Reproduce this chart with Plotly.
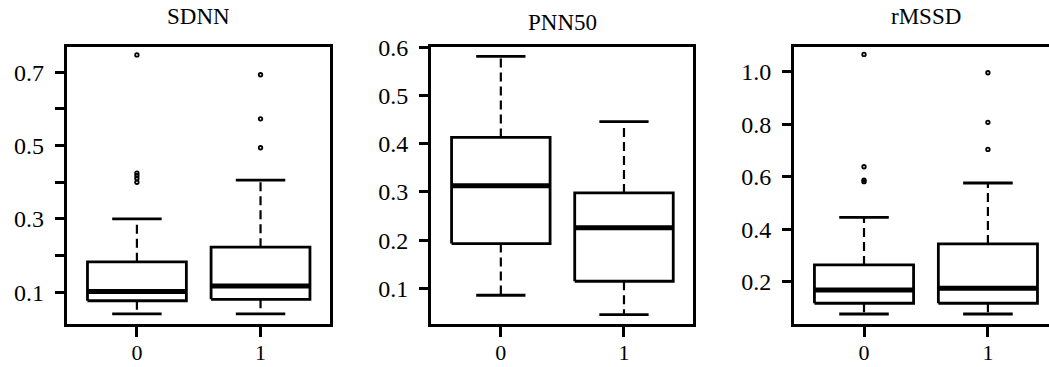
import plotly.graph_objects as go

# ---------------- data ----------------
groups = ["0", "1"]
titles = ["SDNN", "PNN50", "rMSSD"]

# SDNN box statistics per group (lower whisker, Q1, median, Q3, upper whisker)
sdnn_lower = [0.041, 0.041]
sdnn_q1 = [0.077, 0.081]
sdnn_median = [0.102, 0.117]
sdnn_q3 = [0.183, 0.223]
sdnn_upper = [0.300, 0.406]
sdnn_outliers = [[0.400, 0.410, 0.418, 0.425, 0.747], [0.494, 0.573, 0.693]]

# PNN50
pnn_lower = [0.086, 0.046]
pnn_q1 = [0.193, 0.115]
pnn_median = [0.313, 0.226]
pnn_q3 = [0.413, 0.298]
pnn_upper = [0.581, 0.446]
pnn_outliers = [[], []]

# rMSSD
rmssd_lower = [0.077, 0.077]
rmssd_q1 = [0.118, 0.118]
rmssd_median = [0.168, 0.175]
rmssd_q3 = [0.264, 0.344]
rmssd_upper = [0.445, 0.576]
rmssd_outliers = [[0.581, 0.587, 0.638, 1.066], [0.704, 0.807, 0.996]]

# y tick values / labels
sdnn_tickvals = [0.1, 0.2, 0.3, 0.4, 0.5, 0.6, 0.7]
sdnn_ticktext = ["0.1", "", "0.3", "", "0.5", "", "0.7"]
pnn_tickvals = [0.1, 0.2, 0.3, 0.4, 0.5, 0.6]
pnn_ticktext = ["0.1", "0.2", "0.3", "0.4", "0.5", "0.6"]
rmssd_tickvals = [0.2, 0.4, 0.6, 0.8, 1.0]
rmssd_ticktext = ["0.2", "0.4", "0.6", "0.8", "1.0"]

panels = [
    (sdnn_lower, sdnn_q1, sdnn_median, sdnn_q3, sdnn_upper, sdnn_outliers, sdnn_tickvals, sdnn_ticktext),
    (pnn_lower, pnn_q1, pnn_median, pnn_q3, pnn_upper, pnn_outliers, pnn_tickvals, pnn_ticktext),
    (rmssd_lower, rmssd_q1, rmssd_median, rmssd_q3, rmssd_upper, rmssd_outliers, rmssd_tickvals, rmssd_ticktext),
]

# ---------------- layout geometry ----------------
W, H = 1049, 367
FONT = "Liberation Serif"
BOXHALF = 0.4
CAPHALF = 0.2

x_domains = [[66.7 / W, 330.0 / W], [431.0 / W, 692.7 / W], [794.0 / W, 1.0]]
y_domain = [(H - 323.5) / H, (H - 46.5) / H]
x_ranges = [[-0.568, 1.562], [-0.567, 1.558], [-0.565, 1.493]]
y_ranges = [[0.015, 0.770], [0.0274, 0.6015], [0.0408, 1.096]]
title_y = [(H - 31) / H, (H - 37) / H, (H - 31) / H]

fig = go.Figure()

for i, (lo, q1, med, q3, up, outs, tv, tt) in enumerate(panels):
    xa = "x" if i == 0 else f"x{i+1}"
    ya = "y" if i == 0 else f"y{i+1}"
    pos = list(range(len(groups)))

    bx, by, mx, my, wx, wy, cx, cy, ox, oy = [], [], [], [], [], [], [], [], [], []
    for c in pos:
        bx += [c - BOXHALF, c + BOXHALF, c + BOXHALF, c - BOXHALF, c - BOXHALF, None]
        by += [q1[c], q1[c], q3[c], q3[c], q1[c], None]
        mx += [c - BOXHALF, c + BOXHALF, None]
        my += [med[c], med[c], None]
        wx += [c, c, None, c, c, None]
        wy += [q3[c], up[c], None, q1[c], lo[c], None]
        cx += [c - CAPHALF, c + CAPHALF, None, c - CAPHALF, c + CAPHALF, None]
        cy += [up[c], up[c], None, lo[c], lo[c], None]
        ox += [c] * len(outs[c])
        oy += outs[c]

    common = dict(xaxis=xa, yaxis=ya, showlegend=False, hoverinfo="skip")
    fig.add_trace(go.Scatter(x=wx, y=wy, mode="lines",
                             line=dict(color="black", width=2.2, dash="9px,5px"), **common))
    fig.add_trace(go.Scatter(x=cx, y=cy, mode="lines",
                             line=dict(color="black", width=2.8), **common))
    fig.add_trace(go.Scatter(x=bx, y=by, mode="lines", fill="toself", fillcolor="white",
                             line=dict(color="black", width=2.8), **common))
    fig.add_trace(go.Scatter(x=mx, y=my, mode="lines",
                             line=dict(color="black", width=5), **common))
    if ox:
        fig.add_trace(go.Scatter(x=ox, y=oy, mode="markers",
                                 marker=dict(symbol="circle-open", size=3.5, color="black",
                                             line=dict(width=1.8, color="black")), **common))

    xkey = "xaxis" if i == 0 else f"xaxis{i+1}"
    ykey = "yaxis" if i == 0 else f"yaxis{i+1}"
    fig.update_layout(**{
        xkey: dict(domain=x_domains[i], range=x_ranges[i], anchor=ya, automargin=False,
                   tickmode="array", tickvals=pos, ticktext=groups,
                   showline=True, linecolor="black", linewidth=3, mirror=True,
                   ticks="outside", ticklen=10, tickwidth=3, tickcolor="black",
                   ticklabelstandoff=-3,
                   showgrid=False, zeroline=False,
                   tickfont=dict(family=FONT, size=22, color="black")),
        ykey: dict(domain=y_domain, range=y_ranges[i], anchor=xa, automargin=False,
                   tickmode="array", tickvals=tv, ticktext=tt,
                   showline=True, linecolor="black", linewidth=3,
                   mirror=(i != 2),
                   ticks="outside", ticklen=9, tickwidth=2.5, tickcolor="black",
                   ticklabelstandoff=6,
                   showgrid=False, zeroline=False,
                   tickfont=dict(family=FONT, size=24, color="black")),
    })
    fig.add_annotation(text=titles[i], xref=xa, yref="paper",
                       x=(len(groups) - 1) / 2, y=title_y[i],
                       xanchor="center", yanchor="bottom", showarrow=False,
                       font=dict(family=FONT, size=23, color="black"))

fig.update_layout(width=W, height=H, margin=dict(l=0, r=0, t=0, b=0, autoexpand=False),
                  paper_bgcolor="white", plot_bgcolor="white")

fig.write_html("out.html")
